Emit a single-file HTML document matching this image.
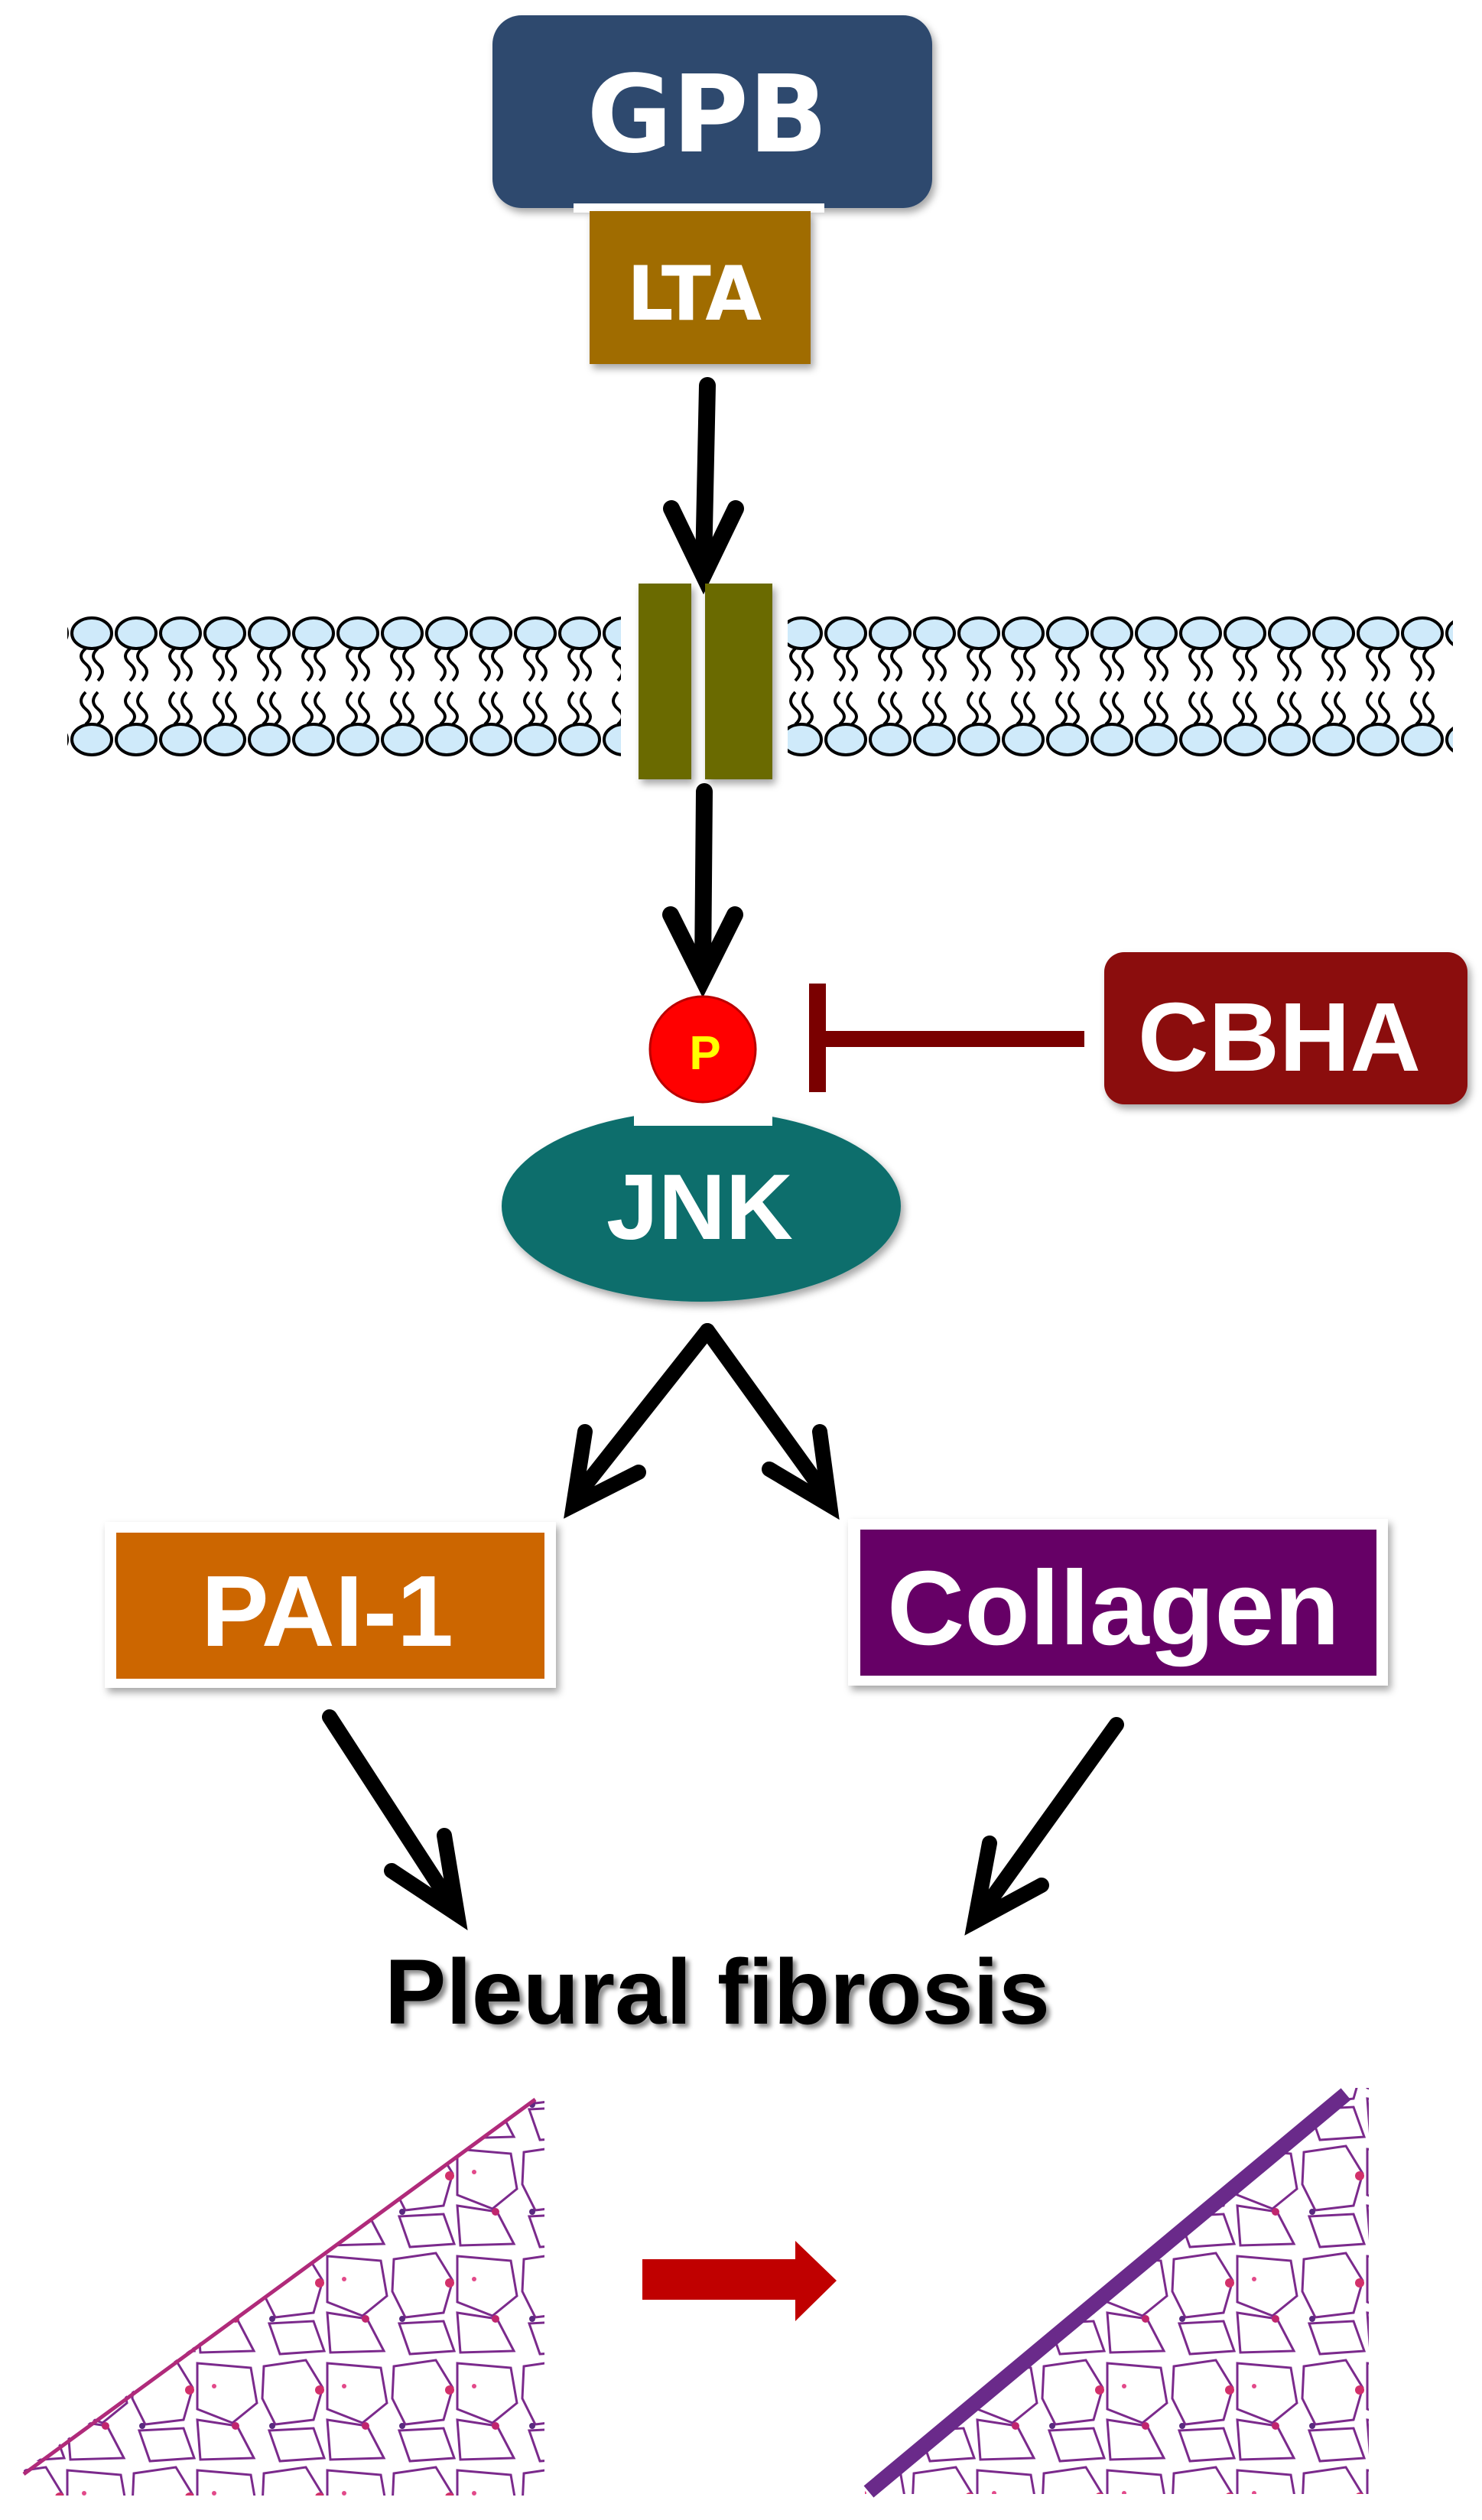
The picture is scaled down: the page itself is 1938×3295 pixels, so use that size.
<!DOCTYPE html>
<html><head><meta charset="utf-8"><style>
html,body{margin:0;padding:0;background:#fff;width:1938px;height:3295px;overflow:hidden}
svg{display:block}
</style></head><body>
<svg width="1938" height="3295" viewBox="0 0 1938 3295" xmlns="http://www.w3.org/2000/svg">
<defs>
<filter id="sh" x="-10%" y="-10%" width="130%" height="130%"><feDropShadow dx="4" dy="6" stdDeviation="5" flood-color="#000" flood-opacity="0.35"/></filter>
<filter id="tsh"><feDropShadow dx="5" dy="5" stdDeviation="3" flood-color="#000" flood-opacity="0.45"/></filter>
<pattern id="lip" x="92" y="0" width="58" height="1200" patternUnits="userSpaceOnUse">
 <path d="M20 848 q-12 10 0 20 q12 10 0 22 M36 848 q-12 10 0 20 q12 10 0 22" fill="none" stroke="#000" stroke-width="4"/>
 <path d="M20 947 q12 -10 0 -20 q-12 -10 0 -22 M36 947 q12 -10 0 -20 q-12 -10 0 -22" fill="none" stroke="#000" stroke-width="4"/>
 <ellipse cx="28" cy="828" rx="26" ry="20" fill="#cfeafa" stroke="#000" stroke-width="4"/>
 <ellipse cx="28" cy="967" rx="26" ry="20" fill="#cfeafa" stroke="#000" stroke-width="4"/>
</pattern>
<pattern id="cells" x="0" y="0" width="170" height="140" patternUnits="userSpaceOnUse">
 <path d="M5 14 L60 6 L82 42 L70 84 L20 90 L3 56 Z M88 10 L158 16 L166 62 L134 88 L88 70 Z M12 98 L70 95 L84 134 L26 138 Z M88 84 L140 92 L162 134 L92 136 Z" fill="none" stroke="#7b2a8c" stroke-width="3"/>
 <circle cx="78" cy="45" r="6" fill="#d2306a"/><circle cx="138" cy="92" r="5" fill="#c0266e"/><circle cx="16" cy="92" r="4" fill="#5a2a80"/><circle cx="110" cy="40" r="3" fill="#e24a8a"/>
</pattern>
<clipPath id="c1"><polygon points="700,2745 712,2745 712,3263 31,3263 31,3230"/></clipPath>
<clipPath id="c2"><polygon points="1760,2730 1790,2730 1790,3261 1131,3261 1131,3255"/></clipPath>
</defs>

<!-- GPB -->
<rect x="644" y="20" width="575" height="252" rx="38" fill="#2d4a6e" filter="url(#sh)"/>
<text x="925" y="198" font-family="DejaVu Sans" font-weight="bold" font-size="140" fill="#fff" text-anchor="middle" textLength="315" lengthAdjust="spacingAndGlyphs">GPB</text>
<rect x="750" y="266" width="328" height="12" fill="#fff"/>
<!-- LTA -->
<rect x="771" y="276" width="289" height="200" fill="#a06c05" filter="url(#sh)"/>
<text x="908" y="418" font-family="DejaVu Sans" font-weight="bold" font-size="98" fill="#fff" text-anchor="middle" textLength="176" lengthAdjust="spacingAndGlyphs">LTA</text>

<!-- arrow 1 -->
<g stroke="#000" stroke-width="22" fill="none" stroke-linecap="round">
<line x1="925" y1="504" x2="920" y2="740"/>
<polyline points="878,665 920,752 962,665"/>
</g>

<!-- membrane -->
<rect x="88" y="800" width="724" height="195" fill="url(#lip)"/>
<rect x="1030" y="800" width="870" height="195" fill="url(#lip)"/>
<rect x="835" y="763" width="69" height="256" fill="#6b6b06" filter="url(#sh)"/>
<rect x="922" y="763" width="88" height="256" fill="#6b6b06" filter="url(#sh)"/>

<!-- arrow 2 -->
<g stroke="#000" stroke-width="22" fill="none" stroke-linecap="round">
<line x1="921" y1="1035" x2="919" y2="1270"/>
<polyline points="877,1196 919,1280 961,1196"/>
</g>

<!-- P -->
<circle cx="919" cy="1372" r="69" fill="#f00" stroke="#b00" stroke-width="3"/>
<text x="922" y="1398" font-family="Liberation Sans" font-weight="bold" font-size="62" fill="#ff0" text-anchor="middle">P</text>

<!-- inhibition -->
<rect x="1062" y="1348" width="356" height="21" fill="#7a0000"/>
<rect x="1058" y="1286" width="22" height="142" fill="#7a0000"/>
<!-- CBHA -->
<rect x="1444" y="1245" width="475" height="199" rx="26" fill="#8b0808" filter="url(#sh)"/>
<text x="1673" y="1400" font-family="Liberation Sans" font-weight="bold" font-size="128" fill="#fff" text-anchor="middle" textLength="370" lengthAdjust="spacingAndGlyphs">CBHA</text>

<!-- JNK -->
<ellipse cx="917" cy="1577" rx="261" ry="125" fill="#0a6e6c" filter="url(#sh)"/>
<rect x="829" y="1444" width="181" height="28" fill="#fff"/>
<text x="915" y="1620" font-family="Liberation Sans" font-weight="bold" font-size="122" fill="#fff" text-anchor="middle" textLength="244" lengthAdjust="spacingAndGlyphs">JNK</text>

<!-- split arrows -->
<g stroke="#000" stroke-width="20" fill="none" stroke-linecap="round">
<line x1="925" y1="1740" x2="755" y2="1955"/>
<polyline points="765,1872 750,1968 835,1925"/>
<line x1="925" y1="1740" x2="1080" y2="1955"/>
<polyline points="1072,1872 1085,1968 1006,1921"/>
</g>

<!-- PAI-1 -->
<rect x="137" y="1990" width="590" height="217" fill="#fff" filter="url(#sh)"/>
<rect x="152" y="2004" width="560" height="191" fill="#cc6600"/>
<text x="428" y="2152" font-family="Liberation Sans" font-weight="bold" font-size="132" fill="#fff" text-anchor="middle" textLength="330" lengthAdjust="spacingAndGlyphs">PAI-1</text>
<!-- Collagen -->
<rect x="1109" y="1986" width="706" height="218" fill="#fff" filter="url(#sh)"/>
<rect x="1125" y="2000" width="675" height="191" fill="#660066"/>
<text x="1456" y="2150" font-family="Liberation Sans" font-weight="bold" font-size="138" fill="#fff" text-anchor="middle" textLength="592" lengthAdjust="spacingAndGlyphs">Collagen</text>

<!-- lower arrows -->
<g stroke="#000" stroke-width="20" fill="none" stroke-linecap="round">
<line x1="431" y1="2245" x2="590" y2="2490"/>
<polyline points="581,2400 598,2503 512,2446"/>
<line x1="1460" y1="2255" x2="1284" y2="2500"/>
<polyline points="1294,2410 1275,2512 1362,2465"/>
</g>

<text x="938" y="2646" font-family="Liberation Sans" font-weight="bold" font-size="121" fill="#000" text-anchor="middle" filter="url(#tsh)" textLength="870" lengthAdjust="spacingAndGlyphs">Pleural fibrosis</text>

<!-- histology left -->
<g clip-path="url(#c1)">
<rect x="31" y="2740" width="681" height="523" fill="#fff"/>
<rect x="31" y="2740" width="681" height="523" fill="url(#cells)"/>
</g>
<line x1="31" y1="3235" x2="700" y2="2745" stroke="#b02a7a" stroke-width="5"/>
<!-- histology right -->
<g clip-path="url(#c2)">
<rect x="1131" y="2730" width="659" height="531" fill="#fff"/>
<rect x="1131" y="2730" width="659" height="531" fill="url(#cells)"/>
</g>
<line x1="1136" y1="3258" x2="1760" y2="2738" stroke="#6a2a8a" stroke-width="20"/>

<!-- red arrow -->
<polygon points="840,2954 1040,2954 1040,2930 1094,2982 1040,3035 1040,3007 840,3007" fill="#c00000"/>
</svg>
</body></html>
